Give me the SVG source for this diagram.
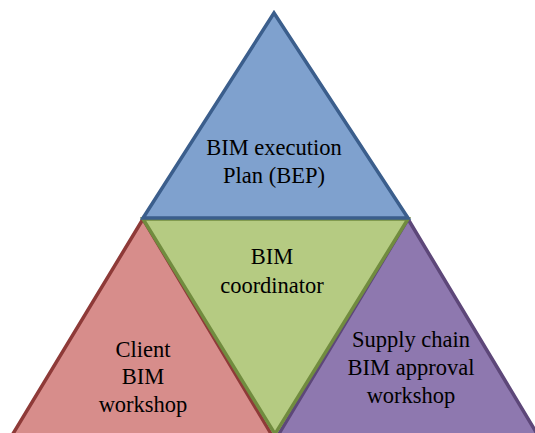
<svg xmlns="http://www.w3.org/2000/svg" width="535" height="433" viewBox="0 0 535 433">
<style>
.t{font-family:'Liberation Serif','Times New Roman',serif;font-size:22.5px;fill:#000;text-anchor:middle}
.s{stroke-width:3.5;stroke-linejoin:miter}
</style>
<rect width="535" height="433" fill="#fff"/>
<g id="left">
<polygon class="s" points="143,219 8,442 276,442" fill="#D78D8B" stroke="#8E3A38"/>
<text class="t" x="143" y="357">Client</text>
<text class="t" x="143" y="384">BIM</text>
<text class="t" x="143" y="412">workshop</text>
</g>
<g id="right">
<polygon class="s" points="408,219 274,442 542,442" fill="#8E78AF" stroke="#5D4779"/>
<text class="t" x="411" y="347">Supply chain</text>
<text class="t" x="411" y="375">BIM approval</text>
<text class="t" x="411" y="403">workshop</text>
</g>
<g id="center">
<polygon class="s" points="143,219 408,219 275,434" fill="#B5CB82" stroke="#718C3F"/>
<text class="t" x="272" y="264">BIM</text>
<text class="t" x="272" y="293">coordinator</text>
</g>
<g id="top">
<polygon class="s" points="274,13 143,218 408,218" fill="#7FA1CE" stroke="#3B5E8C"/>
<text class="t" x="274" y="155">BIM execution</text>
<text class="t" x="274" y="183">Plan (BEP)</text>
</g>
<g id="connectors"></g>
</svg>
